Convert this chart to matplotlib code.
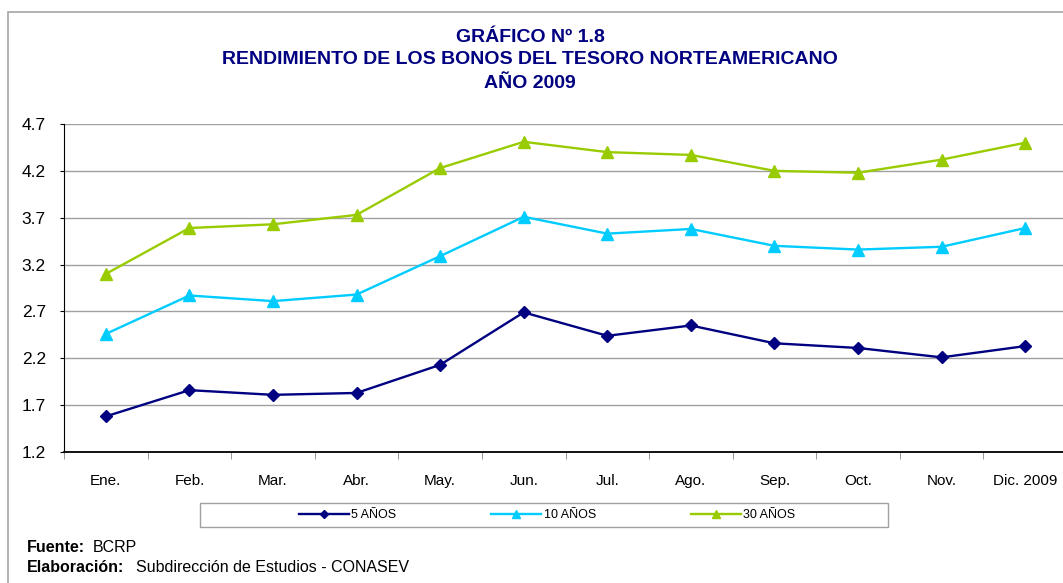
import matplotlib.pyplot as plt
from matplotlib.patches import Rectangle

plt.rcParams['font.family'] = ['Liberation Sans', 'DejaVu Sans']

meses = ['Ene.', 'Feb.', 'Mar.', 'Abr.', 'May.', 'Jun.', 'Jul.', 'Ago.',
         'Sep.', 'Oct.', 'Nov.', 'Dic. 2009']
bono_5 = [1.58, 1.86, 1.81, 1.83, 2.13, 2.69, 2.44, 2.55, 2.36, 2.31, 2.21, 2.33]
bono_10 = [2.46, 2.87, 2.81, 2.88, 3.29, 3.71, 3.53, 3.58, 3.40, 3.36, 3.39, 3.59]
bono_30 = [3.10, 3.59, 3.63, 3.73, 4.23, 4.51, 4.40, 4.37, 4.20, 4.18, 4.32, 4.50]
y_ticks = [1.2, 1.7, 2.2, 2.7, 3.2, 3.7, 4.2, 4.7]

W, H = 1063, 583
fig = plt.figure(figsize=(W / 100, H / 100), dpi=100)

# marco exterior
fig.patches.append(Rectangle((8 / W, -0.01), 1.0, 1 - 12 / H + 0.01,
                             transform=fig.transFigure, fill=False,
                             edgecolor='#a6a6a6', linewidth=1.2))

ax = fig.add_axes([64 / W, 1 - 452 / H, (1067 - 64) / W, (452 - 124) / H])

x = list(range(len(meses)))
ax.plot(x, bono_5, color='#000080', marker='D', markersize=6, linewidth=1.7, label='5 AÑOS')
ax.plot(x, bono_10, color='#00ccff', marker='^', markersize=8, linewidth=1.7, label='10 AÑOS')
ax.plot(x, bono_30, color='#99cc00', marker='^', markersize=8, linewidth=1.7, label='30 AÑOS')

ax.set_xlim(-0.5, 11.5)
ax.set_ylim(1.2, 4.7)
ax.set_yticks(y_ticks)
ax.set_yticklabels([f'{v:.1f}' for v in y_ticks], fontsize=12.5)
ax.set_xticks(x)
ax.set_xticklabels(meses, fontsize=11)
ax.tick_params(axis='x', which='major', length=0, pad=16)
ax.set_xticks([i + 0.5 for i in range(-1, 12)], minor=True)
ax.tick_params(axis='x', which='minor', length=5, color='#888888')
ax.tick_params(axis='y', length=3, pad=10)

ax.grid(axis='y', color='#a0a0a0', linewidth=1)
ax.set_axisbelow(True)
for s in ['top', 'right']:
    ax.spines[s].set_visible(False)
ax.spines['left'].set_color('black')
ax.spines['bottom'].set_color('black')
ax.spines['bottom'].set_linewidth(1.3)

# leyenda con su recuadro
fig.patches.append(Rectangle((200 / W, 1 - 527 / H), 688 / W, 24 / H,
                             transform=fig.transFigure, fill=False,
                             edgecolor='#a0a0a0', linewidth=1))
leg = fig.legend(loc='center', bbox_to_anchor=(547 / W, 1 - 515 / H), ncol=3,
                 fontsize=9, frameon=False, handlelength=4, handletextpad=0.2,
                 columnspacing=7.6, markerscale=0.7)

azul = '#000080'
fig.text(530 / W, 1 - 37 / H, 'GRÁFICO Nº 1.8', ha='center', va='center',
         fontsize=14, fontweight='bold', color=azul)
fig.text(530 / W, 1 - 60 / H, 'RENDIMIENTO DE LOS BONOS DEL TESORO NORTEAMERICANO',
         ha='center', va='center', fontsize=14, fontweight='bold', color=azul)
fig.text(530 / W, 1 - 83 / H, 'AÑO 2009', ha='center', va='center',
         fontsize=14, fontweight='bold', color=azul)

fig.text(27 / W, 1 - 548 / H, 'Fuente:', ha='left', va='center',
         fontsize=11.5, fontweight='bold')
fig.text(93 / W, 1 - 548 / H, 'BCRP', ha='left', va='center', fontsize=11.5)
fig.text(27 / W, 1 - 567 / H, 'Elaboración:', ha='left', va='center',
         fontsize=11.5, fontweight='bold')
fig.text(136 / W, 1 - 567 / H, 'Subdirección de Estudios - CONASEV', ha='left',
         va='center', fontsize=11.5)

fig.savefig('out.png', dpi=100)
